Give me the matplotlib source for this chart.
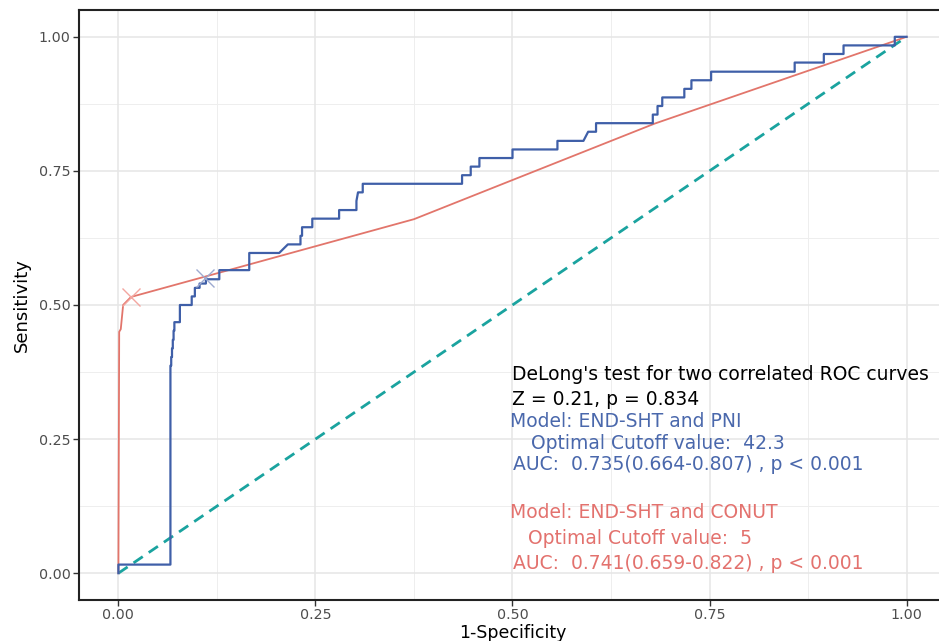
import numpy as np
import matplotlib
matplotlib.use("Agg")
import matplotlib.pyplot as plt

# ROC curve vertices
pni_fpr = [0, 0, 0.066, 0.066, 0.067, 0.067, 0.068, 0.068, 0.069, 0.069, 0.070, 0.070,
           0.071, 0.071, 0.078, 0.078, 0.093, 0.093, 0.097, 0.097, 0.103, 0.103, 0.111,
           0.111, 0.128, 0.128, 0.166, 0.166, 0.204, 0.215, 0.231, 0.231, 0.233, 0.233,
           0.246, 0.246, 0.280, 0.280, 0.302, 0.302, 0.304, 0.310, 0.310, 0.436, 0.436,
           0.447, 0.447, 0.458, 0.458, 0.500, 0.500, 0.557, 0.557, 0.590, 0.596, 0.606,
           0.606, 0.678, 0.678, 0.684, 0.684, 0.690, 0.690, 0.718, 0.718, 0.727, 0.727,
           0.752, 0.752, 0.858, 0.858, 0.895, 0.895, 0.920, 0.920, 0.985, 0.985, 1.0]
pni_tpr = [0, 0.016, 0.016, 0.387, 0.387, 0.403, 0.403, 0.419, 0.419, 0.435, 0.435, 0.452,
           0.452, 0.468, 0.468, 0.500, 0.500, 0.516, 0.516, 0.532, 0.532, 0.540, 0.540,
           0.548, 0.548, 0.565, 0.565, 0.597, 0.597, 0.613, 0.613, 0.629, 0.629, 0.645,
           0.645, 0.661, 0.661, 0.677, 0.677, 0.694, 0.710, 0.710, 0.726, 0.726, 0.742,
           0.742, 0.758, 0.758, 0.774, 0.774, 0.790, 0.790, 0.806, 0.806, 0.823, 0.823,
           0.839, 0.839, 0.855, 0.855, 0.871, 0.871, 0.887, 0.887, 0.903, 0.903, 0.919,
           0.919, 0.935, 0.935, 0.952, 0.952, 0.968, 0.968, 0.984, 0.984, 1.0, 1.0]

conut_fpr = [0, 0.001, 0.003, 0.006, 0.016, 0.375, 0.5, 0.68, 1.0]
conut_tpr = [0, 0.45, 0.455, 0.50, 0.515, 0.66, 0.733, 0.838, 1.0]

# optimal cutoff points
pni_best = (0.110, 0.550)
conut_best = (0.016, 0.515)

ticks = [0.00, 0.25, 0.50, 0.75, 1.00]
tick_labels = ["0.00", "0.25", "0.50", "0.75", "1.00"]

blue = "#3F5FA8"
red = "#E2756B"
teal = "#1AA39F"

fig = plt.figure(figsize=(9.39, 6.41), dpi=100)
ax = fig.add_axes([79 / 939, 41 / 641, 867 / 939, 590 / 641])

ax.set_xlim(-0.05, 1.05)
ax.set_ylim(-0.05, 1.05)

# grid like ggplot theme_bw
minor = [0.125, 0.375, 0.625, 0.875]
for v in minor:
    ax.axvline(v, color="#EEEEEE", lw=0.7, zorder=0)
    ax.axhline(v, color="#EEEEEE", lw=0.7, zorder=0)
for v in ticks:
    ax.axvline(v, color="#E6E6E6", lw=1.1, zorder=0)
    ax.axhline(v, color="#E6E6E6", lw=1.1, zorder=0)

ax.plot([0, 1], [0, 1], color=teal, lw=2.0, ls=(0, (4, 2.6)), zorder=2)
ax.plot(conut_fpr, conut_tpr, color=red, lw=1.3, zorder=3)
ax.plot(pni_fpr, pni_tpr, color=blue, lw=1.6, zorder=4)

ax.plot(*conut_best, marker="x", ms=13, mew=1.0, color="#F3A6A0", zorder=5)
ax.plot(*pni_best, marker="x", ms=13, mew=1.0, color="#9DAAD0", zorder=5)

ax.set_xticks(ticks)
ax.set_xticklabels(tick_labels)
ax.set_yticks(ticks)
ax.set_yticklabels(tick_labels)
ax.tick_params(direction="out", length=4, width=1, color="#333333",
               labelcolor="#4D4D4D", labelsize=10.3, pad=2)

for s in ["left", "bottom", "top"]:
    ax.spines[s].set_linewidth(1.5)
    ax.spines[s].set_color("#222222")
ax.spines["right"].set_visible(False)

ax.set_xlabel("1-Specificity", fontsize=12.5)
ax.xaxis.set_label_coords(0.5, -0.041)
ax.set_ylabel("Sensitivity", fontsize=13, labelpad=6)

fs = 13.5
ax.text(0.499, 0.371, "DeLong's test for two correlated ROC curves", fontsize=fs,
        color="black", va="center")
ax.text(0.499, 0.323, "Z = 0.21, p = 0.834", fontsize=fs, color="black", va="center")
ax.text(0.4965, 0.282, "Model: END-SHT and PNI", fontsize=fs, color="#4A68AC", va="center")
ax.text(0.523, 0.241, "Optimal Cutoff value:  42.3", fontsize=fs, color="#4A68AC", va="center")
ax.text(0.5006, 0.202, "AUC:  0.735(0.664-0.807) , p < 0.001", fontsize=fs,
        color="#4A68AC", va="center")
ax.text(0.497, 0.114, "Model: END-SHT and CONUT", fontsize=fs, color="#E3726E", va="center")
ax.text(0.520, 0.0647, "Optimal Cutoff value:  5", fontsize=fs, color="#E3726E", va="center")
ax.text(0.5006, 0.0183, "AUC:  0.741(0.659-0.822) , p < 0.001", fontsize=fs,
        color="#E3726E", va="center")

fig.savefig("out.png", dpi=100)
